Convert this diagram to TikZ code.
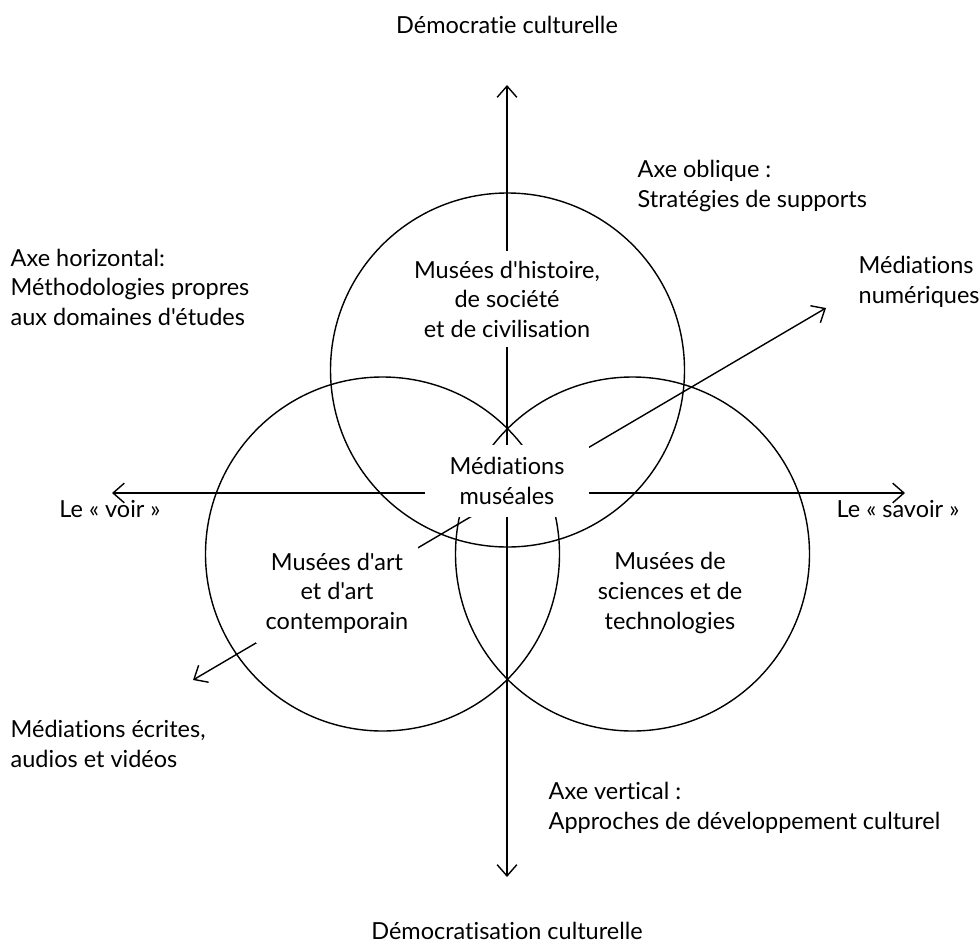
\documentclass[tikz,border=0pt]{standalone}
\usepackage{fontspec}
\setmainfont{Lato}[Ligatures={TeXOff,NoCommon}]
\usepackage{tikz}
\usetikzlibrary{arrows.meta}

\begin{document}
\begin{tikzpicture}[x=0.025cm,y=-0.025cm,>={Straight Barb[length=8pt,width=14pt]},line width=1pt]
\tikzstyle{every node}=[font=\fontsize{16.7}{21}\selectfont,align=center,inner sep=0pt]
\tikzstyle{domaine}=[fill=white,inner xsep=4pt,inner ysep=7pt]
\tikzstyle{legende}=[align=left,anchor=west]
\useasboundingbox (0,0) rectangle (980,946);
\coordinate (vtop) at (507,85);
\coordinate (vbot) at (507,877);
\coordinate (hleft) at (112,493);
\coordinate (hright) at (905,493);
\coordinate (oleft) at (193,680);
\coordinate (oright) at (826,308);
\draw (507.5,370) circle [radius=177];
\draw (382.5,554) circle [radius=177];
\draw (632.5,554) circle [radius=177];
\draw[<->] (vbot) -- (vtop);
\draw[<->] (hleft) -- (hright);
\draw[<->] (oleft) -- (oright);
\node[domaine] (hist) at (507,299) {Musées d'histoire,\\de société\\et de civilisation};
\node[fill=white,minimum width=116pt,minimum height=51pt] (mm) at (507,481) {Médiations\\muséales};
\node[domaine,inner sep=7pt] (art) at (337,593) {Musées d'art\\et d'art\\contemporain};
\node[domaine,inner sep=7pt] (sci) at (670,593) {Musées de\\sciences et de\\technologies};
\node (dculture) at (507,25) {Démocratie culturelle};
\node (dcratisation) at (507,931) {Démocratisation culturelle};
\node (voir) at (110,509) {Le « voir »};
\node (savoir) at (898,509) {Le « savoir »};
\node[legende] (axeh) at (10,287) {Axe horizontal:\\Méthodologies propres\\aux domaines d'études};
\node[legende] (axeo) at (637,186) {Axe oblique :\\Stratégies de supports};
\node[legende] (axev) at (548,808) {Axe vertical :\\Approches de développement culturel};
\node[legende] (numerique) at (858,282) {Médiations\\numériques};
\node[legende] (ecrite) at (10,744) {Médiations écrites,\\audios et vidéos};
\end{tikzpicture}
\end{document}
